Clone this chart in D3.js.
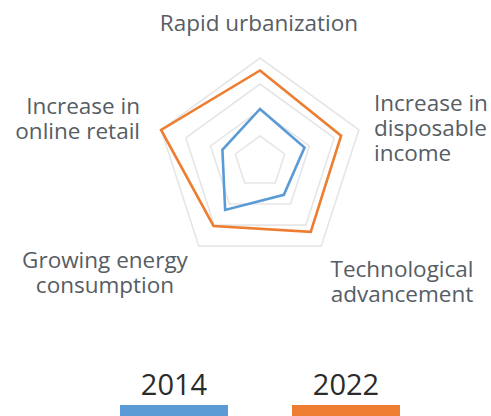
<!DOCTYPE html>
<html>
<head>
<meta charset="utf-8">
<script src="https://cdn.jsdelivr.net/npm/d3@7"></script>
<style>
  html, body { margin: 0; padding: 0; background: #fff; }
  svg { display: block; }
  text { font-family: "Open Sans", "Noto Sans", sans-serif; }
</style>
</head>
<body>
<svg id="chart" width="491" height="416"></svg>
<script>
// Market drivers, scored 0-100
const drivers = [
  "Rapid urbanization",
  "Increase in disposable income",
  "Technological advancement",
  "Growing energy consumption",
  "Increase in online retail"
];
const years = ["2014", "2022"];
const values2014 = [51, 45, 39, 57, 38];
const values2022 = [88, 82, 83, 76, 100];
const gridLevels = [25, 50, 75, 100];

// Label lines for each axis, drawn around the web
const axisLabelLines = [
  ["Rapid urbanization"],
  ["Increase in", "disposable", "income"],
  ["Technological", "advancement"],
  ["Growing energy", "consumption"],
  ["Increase in", "online retail"]
];

const colors = { "2014": "#5b9bd5", "2022": "#ed7d31" };

const svg = d3.select("#chart");
const cx = 260, cy = 162, radius = 104;

const r = d3.scaleLinear().domain([0, 100]).range([0, radius]);
const angle = d3.scalePoint()
  .domain(d3.range(drivers.length + 1))
  .range([0, 2 * Math.PI]);

const g = svg.append("g").attr("transform", `translate(${cx},${cy})`);

// Pentagonal grid rings
const ringLine = d3.lineRadial()
  .angle((d, i) => angle(i))
  .radius(d => r(d))
  .curve(d3.curveLinearClosed);

g.selectAll("path.grid")
  .data(gridLevels)
  .join("path")
  .attr("class", "grid")
  .attr("d", lvl => ringLine(drivers.map(() => lvl)))
  .attr("fill", "none")
  .attr("stroke", "#e6e6e6")
  .attr("stroke-width", 1.6);

// Series outlines
const series = [
  { year: "2014", values: values2014 },
  { year: "2022", values: values2022 }
];

g.selectAll("path.series")
  .data(series)
  .join("path")
  .attr("class", "series")
  .attr("d", s => ringLine(s.values))
  .attr("fill", "none")
  .attr("stroke", s => colors[s.year])
  .attr("stroke-width", 2.6)
  .attr("stroke-linejoin", "miter");

// Axis labels
const labelPlacement = [
  { x: 259, y: 31, anchor: "middle" },
  { x: 374, y: 111, anchor: "start" },
  { x: 402, y: 277, anchor: "middle" },
  { x: 105, y: 268, anchor: "middle" },
  { x: 140, y: 114, anchor: "end" }
];
const lineHeight = 25;

drivers.forEach((name, i) => {
  const p = labelPlacement[i];
  const t = svg.append("text")
    .attr("x", p.x)
    .attr("y", p.y)
    .attr("text-anchor", p.anchor)
    .attr("fill", "#565d64")
    .attr("font-size", 22.5);
  axisLabelLines[i].forEach((line, k) => {
    t.append("tspan")
      .attr("x", p.x)
      .attr("dy", k === 0 ? 0 : lineHeight)
      .text(line);
  });
});

// Legend
const legendX = d3.scalePoint().domain(years).range([174, 346]);
const legend = svg.selectAll("g.legend")
  .data(years)
  .join("g")
  .attr("class", "legend")
  .attr("transform", y => `translate(${legendX(y)},0)`);

legend.append("text")
  .attr("y", 395)
  .attr("text-anchor", "middle")
  .attr("fill", "#2b2b2b")
  .attr("font-size", 29)
  .text(y => y);

legend.append("rect")
  .attr("x", -54)
  .attr("y", 405)
  .attr("width", 108)
  .attr("height", 16)
  .attr("fill", y => colors[y]);
</script>
</body>
</html>
